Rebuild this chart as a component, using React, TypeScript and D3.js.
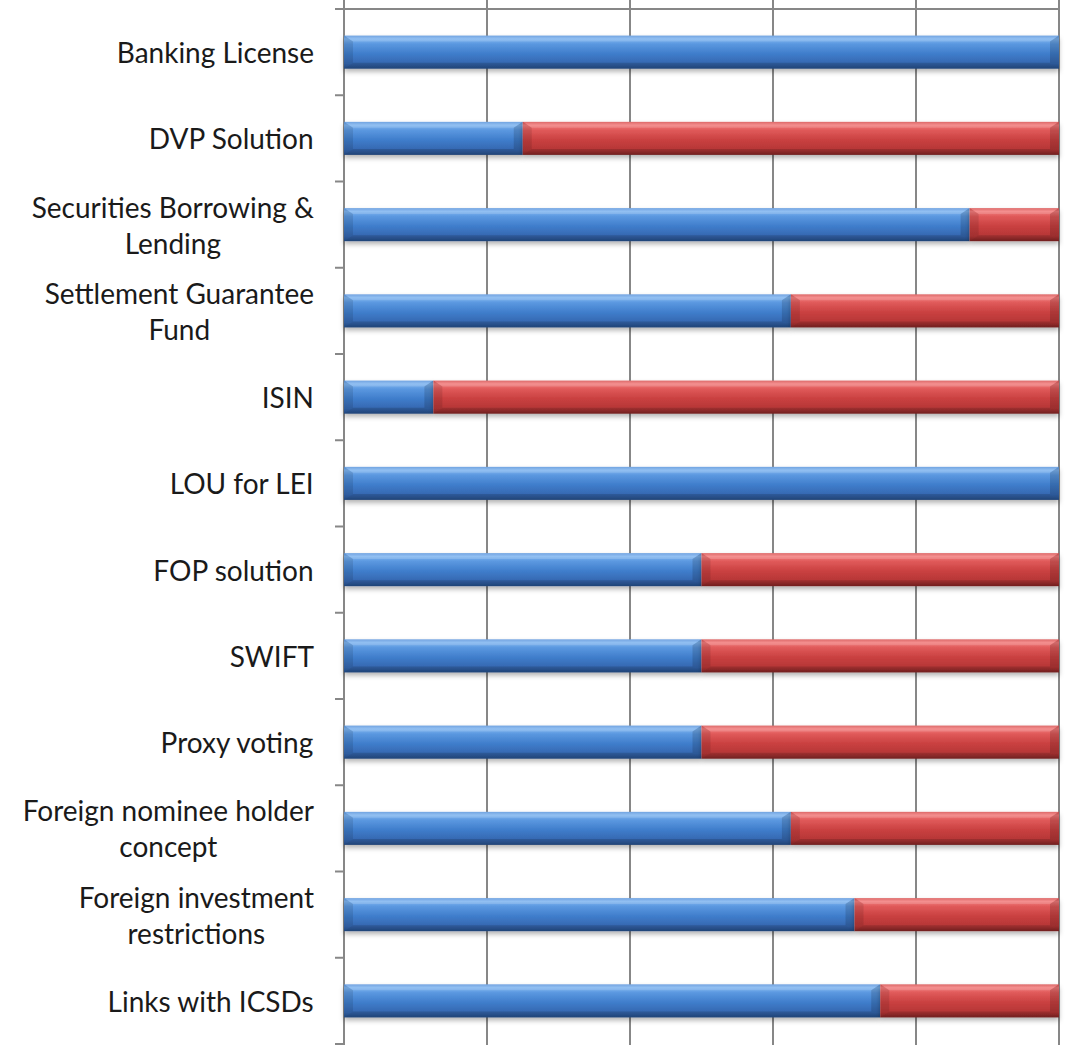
import React, { useMemo } from "react";
import * as d3 from "d3";

const categories: string[][] = [
  ["Banking License"],
  ["DVP Solution"],
  ["Securities Borrowing &", "Lending"],
  ["Settlement Guarantee", "Fund"],
  ["ISIN"],
  ["LOU for LEI"],
  ["FOP solution"],
  ["SWIFT"],
  ["Proxy voting"],
  ["Foreign nominee holder", "concept"],
  ["Foreign investment", "restrictions"],
  ["Links with ICSDs"],
];
const blueValues = [1, 0.25, 0.875, 0.625, 0.125, 1, 0.5, 0.5, 0.5, 0.625, 0.714, 0.75];
const redValues = [0, 0.75, 0.125, 0.375, 0.875, 0, 0.5, 0.5, 0.5, 0.375, 0.286, 0.25];
const xTicks = [0, 0.2, 0.4, 0.6, 0.8, 1];

const W = 1071;
const H = 1045;
const FONT = "Lato, 'Open Sans', sans-serif";
const FS = 28;

function measure(text: string): number {
  const c = document.createElement("canvas");
  const ctx = c.getContext("2d")!;
  ctx.font = `${FS}px ${FONT}`;
  return ctx.measureText(text).width;
}

function Segment({ x0, x1, y0, y1, kind }: { x0: number; x1: number; y0: number; y1: number; kind: string }) {
  if (x1 - x0 < 0.5) return null;
  const bh = Math.min(9, (x1 - x0) / 2);
  const bv = 6;
  return (
    <g>
      <rect x={x0} y={y0} width={x1 - x0} height={y1 - y0} fill={`url(#grad-${kind})`} filter="url(#shadow)" />
      <polygon points={`${x0},${y0} ${x1},${y0} ${x1 - bh},${y0 + bv} ${x0 + bh},${y0 + bv}`} fill="#ffffff" opacity={0.15} />
      <polygon points={`${x0},${y1} ${x1},${y1} ${x1 - bh},${y1 - bv} ${x0 + bh},${y1 - bv}`} fill="#000000" opacity={0.15} />
      <polygon points={`${x0},${y0} ${x0 + bh},${y0 + bv} ${x0 + bh},${y1 - bv} ${x0},${y1}`} fill="#000000" opacity={0.1} />
      <polygon points={`${x1},${y0} ${x1 - bh},${y0 + bv} ${x1 - bh},${y1 - bv} ${x1},${y1}`} fill="#000000" opacity={0.14} />
    </g>
  );
}

export default function App() {
  const x = d3.scaleLinear().domain([0, 1]).range([344, 1059]);
  const y = d3
    .scaleBand<number>()
    .domain(d3.range(categories.length))
    .range([9, 1044])
    .paddingInner(0.617)
    .paddingOuter(0.3085);

  const labelRight = 314;
  const lineGap = 36;

  const labels = useMemo(
    () =>
      categories.map((lines) => {
        const widths = lines.map(measure);
        const maxW = Math.max(...widths);
        return { lines, cx: labelRight - maxW / 2 };
      }),
    []
  );

  const step = y.step();
  const boundaries = d3.range(categories.length + 1).map((i) => 9 + i * step);

  return (
    <svg width={W} height={H} style={{ position: "absolute", left: 0, top: 0, background: "#fff" }}>
      <defs>
        <linearGradient id="grad-blue" x1="0" y1="0" x2="0" y2="1">
          <stop offset="0" stopColor="#5a94dc" />
          <stop offset="0.1" stopColor="#7fb5f0" />
          <stop offset="0.25" stopColor="#5b98e0" />
          <stop offset="0.55" stopColor="#3f7dcb" />
          <stop offset="0.85" stopColor="#3567b0" />
          <stop offset="1" stopColor="#26508c" />
        </linearGradient>
        <linearGradient id="grad-red" x1="0" y1="0" x2="0" y2="1">
          <stop offset="0" stopColor="#d85050" />
          <stop offset="0.1" stopColor="#f27c7c" />
          <stop offset="0.25" stopColor="#e05a5a" />
          <stop offset="0.55" stopColor="#c94040" />
          <stop offset="0.85" stopColor="#b53636" />
          <stop offset="1" stopColor="#852626" />
        </linearGradient>
        <filter id="shadow" x="-5%" y="-30%" width="110%" height="180%">
          <feDropShadow dx="0" dy="3" stdDeviation="2.5" floodColor="#000" floodOpacity="0.3" />
        </filter>
      </defs>

      {xTicks.map((t) => (
        <line key={t} x1={x(t)} x2={x(t)} y1={0} y2={H} stroke="#878787" strokeWidth={2} />
      ))}
      <line x1={335} x2={x(1)} y1={9} y2={9} stroke="#878787" strokeWidth={2} />
      {boundaries.map((b, i) => (
        <line key={i} x1={335} x2={x(0)} y1={b} y2={b} stroke="#878787" strokeWidth={2} />
      ))}

      {categories.map((_, i) => {
        const y0 = y(i)!;
        const y1 = y0 + y.bandwidth();
        const b = blueValues[i];
        const r = redValues[i];
        return (
          <g key={i}>
            <Segment x0={x(0)} x1={x(b)} y0={y0} y1={y1} kind="blue" />
            <Segment x0={x(b)} x1={x(b + r)} y0={y0} y1={y1} kind="red" />
          </g>
        );
      })}

      {labels.map((l, i) => {
        const c = y(i)! + y.bandwidth() / 2;
        const n = l.lines.length;
        return (
          <text key={i} fontFamily={FONT} fontSize={FS} fill="#1a1a1a" textAnchor="middle">
            {l.lines.map((ln, j) => (
              <tspan key={j} x={l.cx} y={c + (j - (n - 1) / 2) * lineGap} dominantBaseline="central">
                {ln}
              </tspan>
            ))}
          </text>
        );
      })}
    </svg>
  );
}
